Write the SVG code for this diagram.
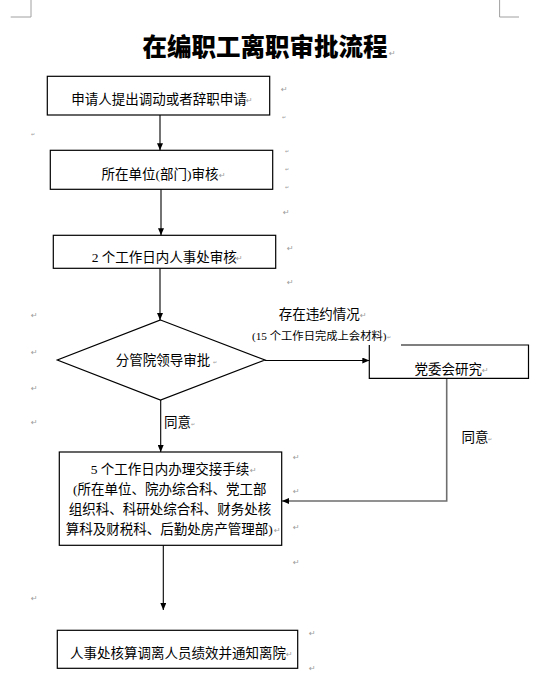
<svg xmlns="http://www.w3.org/2000/svg" width="558" height="686" viewBox="0 0 558 686">
<style>
.bg{fill:#ffffff}
.box{fill:none;stroke:#000;stroke-width:1.2}
.t{font-family:"Liberation Serif","Noto Sans CJK SC",sans-serif;font-size:13.5px;fill:#000;text-anchor:middle;dominant-baseline:central}
.title{font-family:"Noto Sans CJK SC",sans-serif;font-size:24.5px;font-weight:900;fill:#000;text-anchor:middle;dominant-baseline:central}
.small{font-size:11.3px}
.edge{fill:none;stroke:#000;stroke-width:1.1}
.edge2{fill:none;stroke:#6e6e6e;stroke-width:1.6}
.pm{font-family:"DejaVu Sans",sans-serif;font-size:8px;fill:#9a9a9a;dominant-baseline:central}
.pms{font-family:"DejaVu Sans",sans-serif;font-size:5px;fill:#9a9a9a;dominant-baseline:central}
.crop{fill:none;stroke:#a0a0a0;stroke-width:1}
</style>
<defs>
<marker id="arr" markerUnits="userSpaceOnUse" markerWidth="8" markerHeight="6" refX="7" refY="3" orient="auto">
<path d="M0,0 L7,3 L0,6 z" fill="#000"/>
</marker>
</defs>
<rect class="bg" x="0" y="0" width="558" height="686"/>
<g id="cropmarks">
<path class="crop" d="M31,0 V17 H10.7"/>
<path class="crop" d="M499.6,0 V17 H519"/>
</g>
<g id="title">
<text class="title" x="265" y="45.3">在编职工离职审批流程</text>
</g>
<g id="connectors">
<path class="edge" d="M160,115 V150.3" marker-end="url(#arr)"/>
<path class="edge" d="M161,189.3 V235.3" marker-end="url(#arr)"/>
<path class="edge" d="M160,268.3 V320" marker-end="url(#arr)"/>
<path class="edge" d="M265,360.5 H369.3" marker-end="url(#arr)"/>
<path class="edge" d="M160.7,400 V452" marker-end="url(#arr)"/>
<path class="edge2" d="M446.7,378.3 V501 H282" marker-end="url(#arr)"/>
<path class="edge" d="M163.3,545.3 V610" marker-end="url(#arr)"/>
<text class="t" x="319.2" y="314.3">存在违约情况</text>
<text class="t small" x="319.2" y="335.7">(15 个工作日完成上会材料)</text>
<text class="t" x="177.5" y="422.7">同意</text>
<text class="t" x="475" y="437.7">同意</text>
</g>
<g id="n1">
<rect class="box" x="47.3" y="76.3" width="222.4" height="38.7"/>
<text class="t" x="158.9" y="99">申请人提出调动或者辞职申请</text>
</g>
<g id="n2">
<rect class="box" x="50.3" y="150.3" width="222.4" height="39"/>
<text class="t" x="160" y="174">所在单位(部门)审核</text>
</g>
<g id="n3">
<rect class="box" x="53.3" y="235.3" width="222.4" height="33"/>
<text class="t" x="164.2" y="257.7">2 个工作日内人事处审核</text>
</g>
<g id="n4">
<path class="box" d="M160.5,320 L265,360 L160.5,400 L57.3,360 Z"/>
<text class="t" x="163" y="360">分管院领导审批</text>
</g>
<g id="n5">
<path class="box" d="M401,345 H528.5 V378.3 H369.3 V345"/>
<text class="t" x="448.3" y="369">党委会研究</text>
</g>
<g id="n6">
<rect class="box" x="59.3" y="452" width="222.4" height="93.3"/>
<text class="t" x="170" y="469.3">5 个工作日内办理交接手续</text>
<text class="t" x="169.7" y="489">(所在单位、院办综合科、党工部</text>
<text class="t" x="170" y="509.3">组织科、科研处综合科、财务处核</text>
<text class="t" x="169.3" y="529.3">算科及财税科、后勤处房产管理部)</text>
</g>
<g id="n7">
<rect class="box" x="57.3" y="630.3" width="240.4" height="38"/>
<text class="t" x="178" y="653.3">人事处核算调离人员绩效并通知离院</text>
</g>
<g id="marks">
<text class="pm" x="389" y="53">↵</text>
<text class="pm" x="246" y="100">↵</text>
<text class="pm" x="219" y="175">↵</text>
<text class="pm" x="236" y="258">↵</text>
<text class="pms" x="213" y="362">↵</text>
<text class="pm" x="360" y="315">↵</text>
<text class="pms" x="387" y="337">↵</text>
<text class="pm" x="482" y="370">↵</text>
<text class="pms" x="191" y="424">↵</text>
<text class="pms" x="488" y="439">↵</text>
<text class="pm" x="250" y="470">↵</text>
<text class="pm" x="274" y="530">↵</text>
<text class="pm" x="286" y="654">↵</text>
<text class="pm" x="281" y="89">↵</text>
<text class="pms" x="282" y="117">↵</text>
<text class="pms" x="31" y="134">↵</text>
<text class="pms" x="285" y="151">↵</text>
<text class="pms" x="285" y="169">↵</text>
<text class="pms" x="285" y="187">↵</text>
<text class="pm" x="283" y="212">↵</text>
<text class="pm" x="287" y="248">↵</text>
<text class="pm" x="287" y="282">↵</text>
<text class="pm" x="31" y="315">↵</text>
<text class="pm" x="31" y="352">↵</text>
<text class="pm" x="31" y="388">↵</text>
<text class="pm" x="31" y="422">↵</text>
<text class="pm" x="293" y="457">↵</text>
<text class="pm" x="293" y="491">↵</text>
<text class="pm" x="293" y="527">↵</text>
<text class="pm" x="293" y="562">↵</text>
<text class="pm" x="31" y="598">↵</text>
<text class="pm" x="309" y="633">↵</text>
<text class="pm" x="309" y="668">↵</text>
</g>
</svg>
